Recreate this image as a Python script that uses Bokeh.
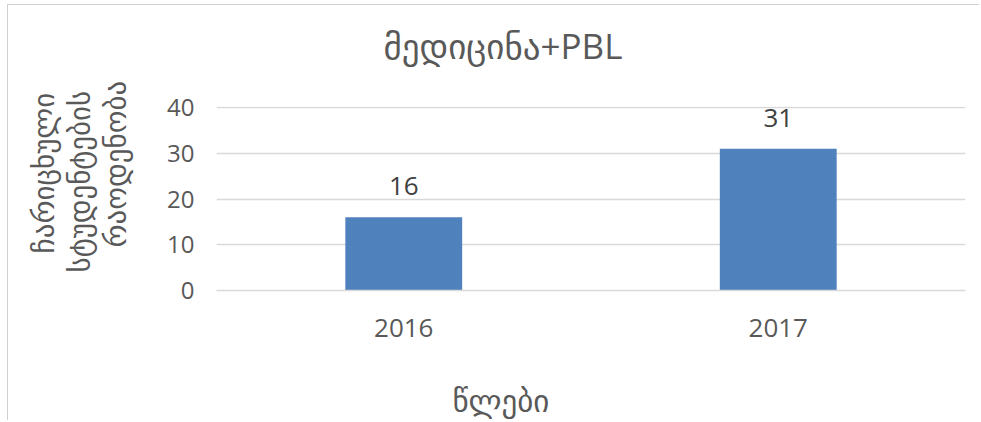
from bokeh.plotting import figure
from bokeh.models import Range1d, FactorRange, Title, ColumnDataSource
from bokeh.embed import file_html
from bokeh.resources import INLINE
from bokeh.core.properties import value

# ---- data ----
years = ["2016", "2017"]
students = [16, 31]
y_ticks = [0, 10, 20, 30, 40]
title_text = "მედიცინა+PBL"
x_label = "წლები"
y_label_lines = ["ჩარიცხული", "სტუდენტების", "რაოდენობა"]

GEO = "DejaVu Sans"
MIX = "Open Sans, DejaVu Sans"
GREY = "#595959"
GRID = "#d9d9d9"
BAR = "#4F81BD"

src = ColumnDataSource(dict(year=years, n=students, lbl=[str(v) for v in students]))

W, H = 972, 416
p = figure(width=W, height=H,
           x_range=FactorRange(*years, range_padding=0),
           y_range=Range1d(0, 40.22),
           output_backend="svg", toolbar_location=None,
           min_border_left=208, min_border_right=15,
           min_border_top=101, min_border_bottom=131)
p.title.visible = False
p.styles = {"margin-left": "7px", "margin-top": "4px",
            "border-left": "1px solid #d0d0d0", "border-top": "1px solid #d0d0d0"}

p.vbar(x="year", top="n", bottom=0, width=0.312, source=src,
       fill_color=BAR, line_color=None)
p.text(x="year", y="n", text="lbl", source=src, text_align="center",
       text_baseline="alphabetic", y_offset=-31,
       text_font=value("Open Sans"), text_font_size="26px", text_color="#404040")

p.outline_line_color = None
p.xgrid.grid_line_color = None
p.ygrid.grid_line_color = GRID
p.ygrid.grid_line_width = 1.3

p.yaxis.ticker = y_ticks
p.yaxis.axis_line_color = None
p.yaxis.major_tick_line_color = None
p.yaxis.minor_tick_line_color = None
p.yaxis.major_label_standoff = 16
p.yaxis.major_label_text_font = "Open Sans"
p.yaxis.major_label_text_font_size = "24px"
p.yaxis.major_label_text_color = GREY

p.xaxis.axis_line_color = GRID
p.xaxis.axis_line_width = 1.3
p.xaxis.major_tick_line_color = None
p.xaxis.minor_tick_line_color = None
p.xaxis.major_label_standoff = 22
p.xaxis.major_label_text_font = "Open Sans"
p.xaxis.major_label_text_font_size = "26px"
p.xaxis.major_label_text_color = GREY

def spacer(side, gap):
    p.add_layout(Title(text=" ", text_font_size="1px", standoff=gap), side)

def title(side, text, font, size, offset, standoff=0):
    p.add_layout(Title(text=text, align="left", offset=offset, standoff=standoff,
                       text_font=font, text_font_size=size,
                       text_font_style="normal", text_color=GREY), side)

# chart title
spacer("above", 35)
title("above", title_text, MIX, "35px", 167)
# x axis title
spacer("below", 45)
title("below", x_label, GEO, "31px", 236, -14)
# y axis title (three lines, nearest the axis first)
spacer("left", 29)
title("left", y_label_lines[2], GEO, "29px", 43, 0)
title("left", y_label_lines[1], GEO, "29px", 18, 0)
title("left", y_label_lines[0], GEO, "29px", 37, 0)

open("out.html", "w").write(file_html(p, INLINE))
